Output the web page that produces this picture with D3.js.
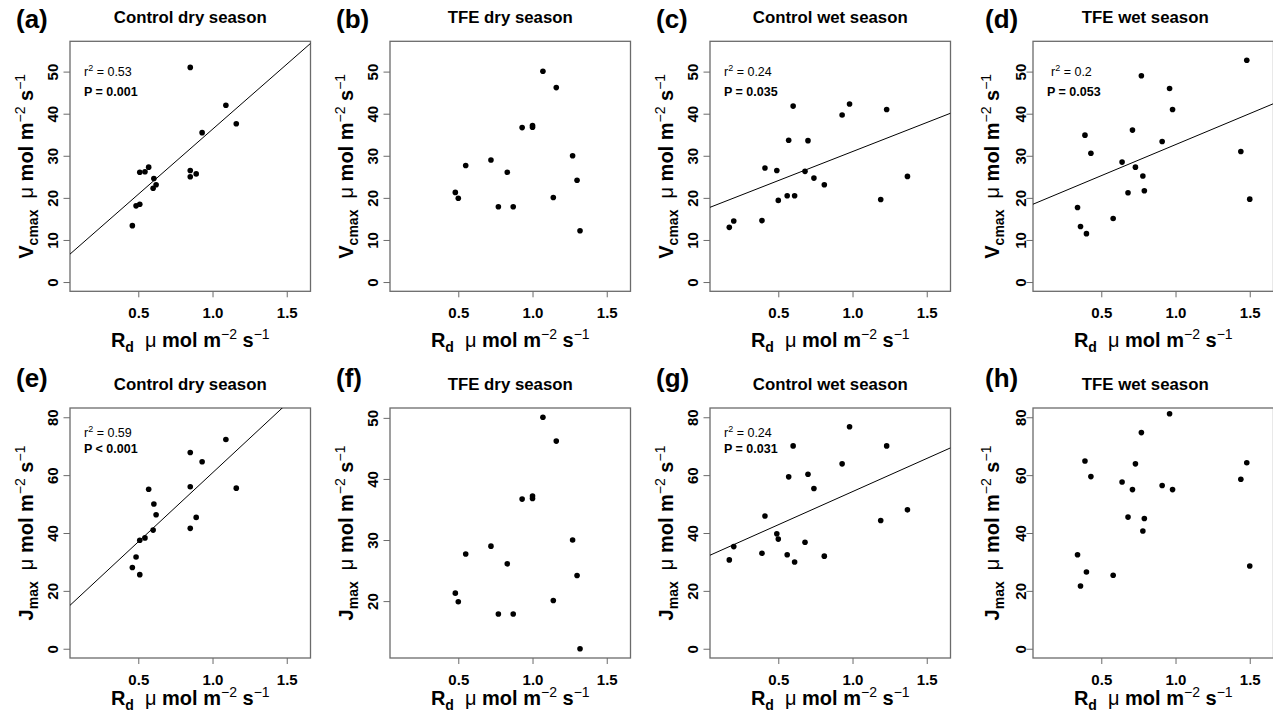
<!DOCTYPE html>
<html>
<head>
<meta charset="utf-8">
<script src="https://cdn.jsdelivr.net/npm/d3@7"></script>
<style>
  body { margin: 0; background: #fff; }
  svg text { font-family: "Liberation Sans", Arial, sans-serif; white-space: pre; }
</style>
</head>
<body>
<svg width="1273" height="716"></svg>
<script>
// tick labels
const xTicks = [0.5, 1.0, 1.5];
const vcmaxTicks = [0, 10, 20, 30, 40, 50];
const jmaxTicks = [0, 20, 40, 60, 80];
const tfeDryJmaxTicks = [20, 30, 40, 50];

// control, dry season
const controlDryRd    = [0.85, 1.09, 0.93, 1.16, 0.57, 0.545, 0.51, 0.85, 0.85, 0.89, 0.605, 0.62, 0.60, 0.51, 0.485, 0.46];
const controlDryVcmax = [51.0, 42.0, 35.5, 37.6, 27.3, 26.2, 26.1, 26.5, 25.0, 25.7, 24.6, 23.1, 22.3, 18.5, 18.1, 13.4];
const controlDryJmax  = [67.8, 72.3, 64.6, 55.5, 55.1, 38.3, 37.5, 56.0, 41.6, 45.4, 50.0, 46.3, 41.0, 25.6, 31.7, 28.1];

// TFE, dry season
const tfeDryRd    = [1.07, 1.16, 0.93, 1.00, 1.00, 1.27, 0.72, 0.55, 0.83, 1.30, 0.48, 0.50, 1.14, 0.77, 0.87, 1.32];
const tfeDryVcmax = [50.1, 46.2, 36.7, 37.2, 36.8, 30.0, 29.0, 27.7, 26.1, 24.2, 21.3, 19.9, 20.1, 17.9, 17.9, 12.2];
const tfeDryJmax  = [50.1, 46.2, 36.7, 37.2, 36.8, 30.0, 29.0, 27.7, 26.1, 24.2, 21.3, 19.9, 20.1, 17.9, 17.9, 12.2];

// control, wet season
const controlWetRd    = [0.17, 0.20, 0.39, 0.41, 0.49, 0.50, 0.56, 0.61, 0.57, 0.60, 0.68, 0.70, 0.74, 0.81, 0.93, 0.98, 1.19, 1.23, 1.37];
const controlWetVcmax = [13.0, 14.5, 14.6, 27.1, 26.5, 19.4, 20.5, 20.5, 33.7, 41.8, 26.3, 33.6, 24.7, 23.1, 39.7, 42.3, 19.6, 41.0, 25.1];
const controlWetJmax  = [30.7, 35.3, 33.0, 45.9, 39.7, 37.9, 32.5, 30.0, 59.4, 70.1, 36.8, 60.3, 55.4, 32.0, 63.9, 76.7, 44.3, 70.1, 48.0];

// TFE, wet season
const tfeWetRd    = [1.48, 0.77, 0.96, 0.98, 0.39, 0.71, 0.91, 0.43, 1.44, 0.64, 0.73, 0.78, 0.79, 0.68, 1.50, 0.34, 0.58, 0.36, 0.40];
const tfeWetVcmax = [52.7, 49.0, 46.0, 41.0, 34.9, 36.1, 33.4, 30.6, 31.0, 28.5, 27.3, 25.2, 21.7, 21.2, 19.7, 17.7, 15.1, 13.2, 11.5];
const tfeWetJmax  = [64.3, 74.7, 81.2, 55.0, 64.9, 55.0, 56.4, 59.5, 58.6, 57.6, 63.9, 40.7, 45.0, 45.5, 28.6, 32.5, 25.4, 21.7, 26.5];

// fitted lines [intercept, slope], null = no fit shown
const fitLines = [[5.4, 30.9], null, [17.2, 13.8], [17.9, 14.75], [13.1, 47.7], null, [31.4, 22.9], null];
const r2Labels = ['0.53', null, '0.24', '0.2', '0.59', null, '0.24', null];
const pLabels  = ['P = 0.001', null, 'P = 0.035', 'P = 0.053', 'P < 0.001', null, 'P = 0.031', null];
const panelLetters = ['(a)', '(b)', '(c)', '(d)', '(e)', '(f)', '(g)', '(h)'];
const panelTitles = ['Control dry season', 'TFE dry season', 'Control wet season', 'TFE wet season',
                     'Control dry season', 'TFE dry season', 'Control wet season', 'TFE wet season'];

const panels = [
  {x: controlDryRd, y: controlDryVcmax, ticks: vcmaxTicks, lim: [0, 55], yMain: 'V', ySub: 'cmax'},
  {x: tfeDryRd,     y: tfeDryVcmax,     ticks: vcmaxTicks, lim: [0, 55], yMain: 'V', ySub: 'cmax'},
  {x: controlWetRd, y: controlWetVcmax, ticks: vcmaxTicks, lim: [0, 55], yMain: 'V', ySub: 'cmax'},
  {x: tfeWetRd,     y: tfeWetVcmax,     ticks: vcmaxTicks, lim: [0, 55], yMain: 'V', ySub: 'cmax'},
  {x: controlDryRd, y: controlDryJmax,  ticks: jmaxTicks,  lim: [0, 80], yMain: 'J', ySub: 'max'},
  {x: tfeDryRd,     y: tfeDryJmax,      ticks: tfeDryJmaxTicks, lim: null, yMain: 'J', ySub: 'max'},
  {x: controlWetRd, y: controlWetJmax,  ticks: jmaxTicks,  lim: [0, 80], yMain: 'J', ySub: 'max'},
  {x: tfeWetRd,     y: tfeWetJmax,      ticks: jmaxTicks,  lim: [0, 80], yMain: 'J', ySub: 'max'}
];

// layout
const colLeft = [70, 390, 710, 1033];
const colShift = [0, 0, 0, 5];
const rowTop = [41.3, 408];
const boxW = 240.5, boxH = 250;
const xLim = [0.1, 1.6];
const boxColor = '#6b6b6b';

const svg = d3.select('svg');

// R style 4% padding of the axis range
const pad = lim => {
  const r = lim[1] - lim[0];
  return [lim[0] - 0.04 * r, lim[1] + 0.04 * r];
};

function unitText(sel, main, sub) {
  sel.append('tspan').attr('font-weight', 'bold').text(main);
  sel.append('tspan').attr('font-weight', 'bold').attr('font-size', 14).attr('dy', 5).text(sub);
  sel.append('tspan').attr('dy', -5).text('  \u03bc');
  sel.append('tspan').attr('font-weight', 'bold').text(' mol m');
  sel.append('tspan').attr('font-size', 14).attr('dy', -8).text('\u22122');
  sel.append('tspan').attr('font-weight', 'bold').attr('dy', 8).text(' s');
  sel.append('tspan').attr('font-size', 14).attr('dy', -8).text('\u22121');
}

panels.forEach((p, i) => {
  const col = i % 4, row = Math.floor(i / 4);
  const left = colLeft[col], top = rowTop[row];
  const sh = colShift[col];

  const x = d3.scaleLinear().domain(pad(xLim)).range([left, left + boxW]);
  const y = d3.scaleLinear().domain(pad(p.lim || d3.extent(p.y))).range([top + boxH, top]);

  const g = svg.append('g');

  // clip for the fitted line
  const clipId = 'clip' + i;
  svg.append('clipPath').attr('id', clipId)
    .append('rect').attr('x', left).attr('y', top).attr('width', boxW).attr('height', boxH);

  // axes
  const xAxis = g.append('g').attr('transform', `translate(0,${top + boxH})`)
    .call(d3.axisBottom(x).tickValues(xTicks).tickSize(6).tickSizeOuter(0).tickFormat(d3.format('.1f')));
  xAxis.select('.domain').remove();
  xAxis.selectAll('line').attr('stroke', boxColor);
  xAxis.selectAll('text').attr('font-size', 15).attr('font-weight', 'bold').attr('fill', '#000')
    .attr('y', 0).attr('dy', 26.5).attr('font-family', null);

  const yAxis = g.append('g').attr('transform', `translate(${left},0)`)
    .call(d3.axisLeft(y).tickValues(p.ticks).tickSize(6.5).tickSizeOuter(0));
  yAxis.select('.domain').remove();
  yAxis.selectAll('line').attr('stroke', boxColor);
  yAxis.selectAll('text').attr('font-size', 15).attr('font-weight', 'bold').attr('fill', '#000')
    .attr('font-family', null)
    .attr('transform', 'rotate(-90)').attr('x', 0).attr('y', -12.3 + sh).attr('dy', 0)
    .attr('text-anchor', 'middle');

  // box
  g.append('rect').attr('x', left).attr('y', top).attr('width', boxW).attr('height', boxH)
    .attr('fill', 'none').attr('stroke', boxColor).attr('stroke-width', 1.3);

  // fitted line
  const fit = fitLines[i];
  if (fit) {
    const xs = x.domain();
    g.append('line').attr('clip-path', `url(#${clipId})`)
      .attr('x1', x(xs[0])).attr('y1', y(fit[0] + fit[1] * xs[0]))
      .attr('x2', x(xs[1])).attr('y2', y(fit[0] + fit[1] * xs[1]))
      .attr('stroke', '#000').attr('stroke-width', 1);
  }

  // points
  g.selectAll('circle.pt').data(p.x.map((d, k) => [d, p.y[k]])).enter()
    .append('circle').attr('class', 'pt')
    .attr('cx', d => x(d[0])).attr('cy', d => y(d[1]))
    .attr('r', 2.8).attr('fill', '#000');

  // r2 and P
  if (r2Labels[i]) {
    const ax = col === 3 ? 18 : 14;
    const r2y = row === 0 ? y(50) : y(74.6);
    const py = row === 0 ? y(45.3) : y(69.1);
    const t = g.append('text').attr('x', left + ax).attr('y', r2y + 4.5).attr('font-size', 12.5);
    t.append('tspan').text('r');
    t.append('tspan').attr('font-size', 9).attr('dy', -5).text('2');
    t.append('tspan').attr('dy', 5).text(' = ' + r2Labels[i]);
    g.append('text').attr('x', left + 14).attr('y', py + 4.5)
      .attr('font-size', 12.5).attr('font-weight', 'bold').text(pLabels[i]);
  }

  // titles
  const cx = left + boxW / 2;
  g.append('text').attr('x', cx + (col === 3 ? -8 : 0)).attr('y', top - 18)
    .attr('text-anchor', 'middle').attr('font-size', 16.8).attr('font-weight', 'bold')
    .text(panelTitles[i]);
  g.append('text').attr('x', left - 54 + (col === 3 ? 6 : 0)).attr('y', row === 0 ? 28 : 387)
    .attr('font-size', 26).attr('font-weight', 'bold').text(panelLetters[i]);

  // x title
  const xt = g.append('text').attr('x', cx).attr('y', row === 0 ? 347 : 705)
    .attr('text-anchor', 'middle').attr('font-size', 20);
  unitText(xt, 'R', 'd');

  // y title
  const yt = g.append('text')
    .attr('transform', `translate(${left - 37 + sh * 0.6},${top + boxH / 2}) rotate(-90)`)
    .attr('text-anchor', 'middle').attr('font-size', 20);
  unitText(yt, p.yMain, p.ySub);
});
</script>
</body>
</html>
